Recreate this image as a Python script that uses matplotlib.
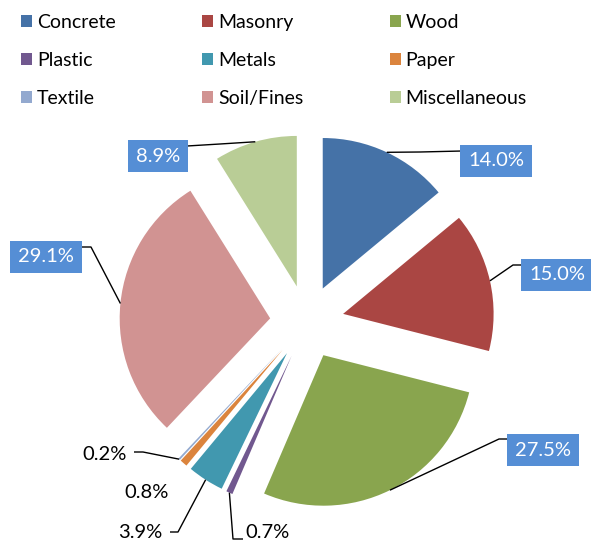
import matplotlib.pyplot as plt
import numpy as np

# data
categories = ['Concrete', 'Masonry', 'Wood', 'Plastic', 'Metals', 'Paper',
              'Textile', 'Soil/Fines', 'Miscellaneous']
shares = [14.0, 15.0, 27.5, 0.7, 3.9, 0.8, 0.2, 29.1, 8.9]
colors = ['#4572A7', '#AA4643', '#89A54E', '#71588F', '#4198AF', '#DB843D',
          '#93A9CF', '#D19392', '#B9CD96']
boxed = [True, True, True, False, False, False, False, True, True]

W, H = 591, 551
BOX_COLOR = '#558ED5'

# label layout in image pixels (origin top-left): text centre, leader elbow, leader end
label_pos = [(496, 161), (557, 275), (543, 450), (267, 532), (140, 532),
             (147, 493), (105, 455), (46, 257), (158, 156)]
leader_elbow = [(420, 152), (513, 265), (499, 439), (233, 539), (178, 532),
                None, (143, 452), (91, 247), (220, 144)]
leader_end = [(462, 151), (523, 265), (509, 439), (243, 539), (170, 532),
              None, (134, 452), (81, 247), (187, 146)]


def px(x, y):
    # image pixel coords -> data coords (axes spans the whole figure)
    return x, H - y


plt.rcParams['font.family'] = ['Lato', 'DejaVu Sans']

fig = plt.figure(figsize=(W / 100, H / 100), dpi=100)
ax = fig.add_axes([0, 0, 1, 1])

# explode is in data units here (radius is in pixels)
wedges, _ = ax.pie(shares, colors=colors, explode=[37] * len(shares),
                   startangle=90, counterclock=False,
                   center=px(307, 322), radius=150.5,
                   wedgeprops=dict(linewidth=0))
ax.set_xlim(0, W)
ax.set_ylim(0, H)
ax.set_aspect('auto')
ax.axis('off')

for i, w in enumerate(wedges):
    label = f'{shares[i]:.1f}%'
    tx, ty = px(*label_pos[i])
    if leader_elbow[i] is not None:
        theta = np.deg2rad((w.theta1 + w.theta2) / 2)
        ax0 = w.center[0] + w.r * np.cos(theta)
        ay0 = w.center[1] + w.r * np.sin(theta)
        ex, ey = px(*leader_elbow[i])
        fx, fy = px(*leader_end[i])
        ax.plot([ax0, ex, fx], [ay0, ey, fy], color='black', lw=1.0,
                solid_capstyle='butt')
    if boxed[i]:
        ax.text(tx, ty, label, ha='center', va='center', color='white',
                fontsize=14.5,
                bbox=dict(boxstyle='square,pad=0.38', fc=BOX_COLOR, ec='none'))
    else:
        ax.text(tx, ty, label, ha='center', va='center', color='black',
                fontsize=14.5)

# legend laid out row by row like the original
order = [0, 3, 6, 1, 4, 7, 2, 5, 8]
leg = fig.legend([wedges[i] for i in order], [categories[i] for i in order],
                 ncol=3, loc='upper left', bbox_to_anchor=(21 / W, 1 - 14 / H),
                 frameon=False, fontsize=14, borderpad=0, borderaxespad=0,
                 handlelength=0.57, handleheight=0.57, handletextpad=0.26,
                 columnspacing=4.43, labelspacing=1.07)

fig.savefig('out.png', dpi=100)
